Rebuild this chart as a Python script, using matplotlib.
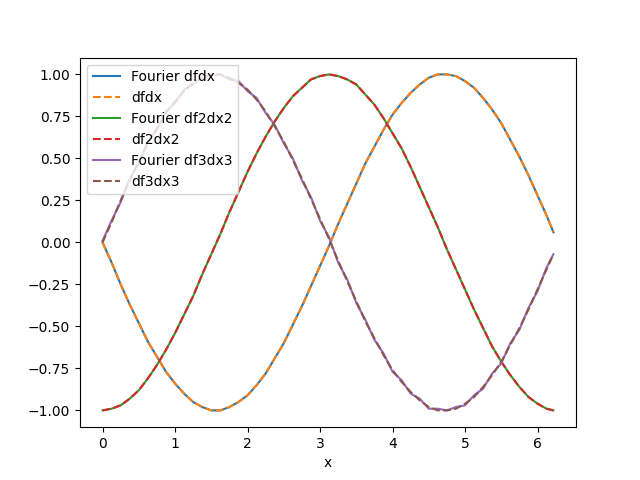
import matplotlib
matplotlib.use("Agg")
import matplotlib.pyplot as plt

# values
x = [0.0, 0.125, 0.25, 0.375, 0.5, 0.625, 0.75, 0.875, 1.0, 1.125, 1.25, 1.375,
     1.5, 1.625, 1.75, 1.875, 2.0, 2.125, 2.25, 2.375, 2.5, 2.625, 2.75, 2.875,
     3.0, 3.125, 3.25, 3.375, 3.5, 3.625, 3.75, 3.875, 4.0, 4.125, 4.25, 4.375,
     4.5, 4.625, 4.75, 4.875, 5.0, 5.125, 5.25, 5.375, 5.5, 5.625, 5.75, 5.875,
     6.0, 6.125, 6.22]

dfdx = [0.0, -0.12, -0.25, -0.37, -0.48, -0.59, -0.68, -0.77, -0.84, -0.90,
        -0.95, -0.98, -1.0, -1.0, -0.98, -0.95, -0.91, -0.85, -0.78, -0.69,
        -0.60, -0.49, -0.38, -0.26, -0.14, -0.02, 0.11, 0.23, 0.35, 0.47,
        0.57, 0.67, 0.76, 0.83, 0.89, 0.94, 0.98, 1.0, 1.0, 0.99,
        0.96, 0.92, 0.86, 0.79, 0.71, 0.61, 0.51, 0.40, 0.28, 0.16, 0.06]
fourier_dfdx = list(dfdx)

df2dx2 = [-1.0, -0.99, -0.97, -0.93, -0.88, -0.81, -0.73, -0.64, -0.54, -0.43,
          -0.32, -0.19, -0.07, 0.05, 0.18, 0.30, 0.42, 0.53, 0.63, 0.72,
          0.80, 0.87, 0.92, 0.97, 0.99, 1.0, 0.99, 0.97, 0.94, 0.88,
          0.82, 0.74, 0.65, 0.56, 0.45, 0.33, 0.21, 0.09, -0.04, -0.16,
          -0.28, -0.40, -0.51, -0.62, -0.71, -0.79, -0.86, -0.92, -0.96, -0.99, -1.0]
fourier_df2dx2 = list(df2dx2)

df3dx3 = [0.0, 0.12, 0.25, 0.37, 0.48, 0.59, 0.68, 0.77, 0.84, 0.90,
          0.95, 0.98, 1.0, 1.0, 0.98, 0.95, 0.91, 0.85, 0.78, 0.69,
          0.60, 0.49, 0.38, 0.26, 0.14, 0.02, -0.11, -0.23, -0.35, -0.47,
          -0.57, -0.67, -0.76, -0.83, -0.89, -0.94, -0.98, -1.0, -1.0, -0.99,
          -0.96, -0.92, -0.86, -0.79, -0.71, -0.61, -0.51, -0.40, -0.28, -0.16, -0.07]
fourier_df3dx3 = [0.01, 0.13, 0.24, 0.38, 0.47, 0.60, 0.67, 0.78, 0.83, 0.91,
                  0.94, 0.99, 0.99, 1.0, 0.97, 0.96, 0.90, 0.86, 0.77, 0.70,
                  0.59, 0.50, 0.37, 0.27, 0.13, 0.03, -0.12, -0.22, -0.36, -0.46,
                  -0.58, -0.66, -0.77, -0.82, -0.90, -0.93, -0.99, -0.99, -1.0, -0.98,
                  -0.97, -0.91, -0.87, -0.78, -0.72, -0.60, -0.52, -0.39, -0.29, -0.15, -0.07]

fig, ax = plt.subplots(figsize=(6.4, 4.8), dpi=100)

ax.plot(x, fourier_dfdx, label='Fourier dfdx')
ax.plot(x, dfdx, '--', label='dfdx')
ax.plot(x, fourier_df2dx2, label='Fourier df2dx2')
ax.plot(x, df2dx2, '--', label='df2dx2')
ax.plot(x, fourier_df3dx3, label='Fourier df3dx3')
ax.plot(x, df3dx3, '--', label='df3dx3')

ax.set_xlabel('x')
ax.legend(loc='upper left')

plt.savefig('out.png', dpi=100)
